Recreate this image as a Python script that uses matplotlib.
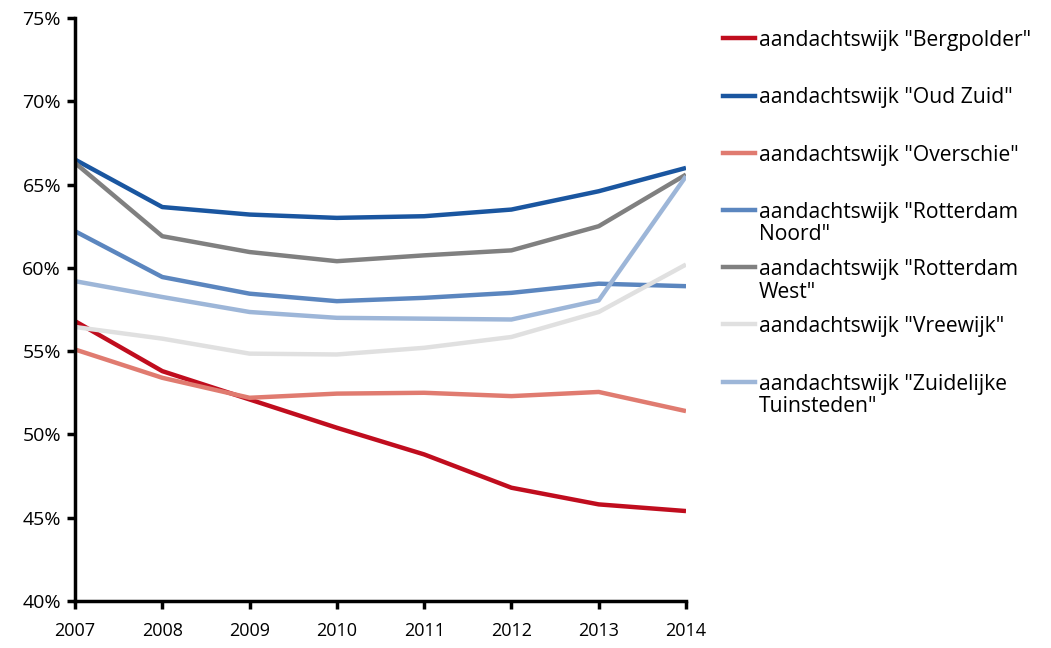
import matplotlib
matplotlib.use("Agg")
import matplotlib.pyplot as plt
from matplotlib.lines import Line2D
from matplotlib.ticker import FuncFormatter

years = [2007, 2008, 2009, 2010, 2011, 2012, 2013, 2014]
labels = ['aandachtswijk "Bergpolder"', 'aandachtswijk "Oud Zuid"', 'aandachtswijk "Overschie"',
          'aandachtswijk "Rotterdam\nNoord"', 'aandachtswijk "Rotterdam\nWest"', 'aandachtswijk "Vreewijk"',
          'aandachtswijk "Zuidelijke\nTuinsteden"']
bergpolder = [56.8, 53.8, 52.1, 50.4, 48.8, 46.8, 45.8, 45.4]
oud_zuid = [66.5, 63.65, 63.2, 63.0, 63.1, 63.5, 64.6, 66.0]
overschie = [55.1, 53.4, 52.2, 52.45, 52.5, 52.3, 52.55, 51.4]
rdam_noord = [62.2, 59.45, 58.45, 58.0, 58.2, 58.5, 59.05, 58.9]
rdam_west = [66.3, 61.9, 60.95, 60.4, 60.75, 61.05, 62.5, 65.6]
vreewijk = [56.45, 55.75, 54.85, 54.8, 55.2, 55.85, 57.35, 60.2]
zuidelijke = [59.2, 58.25, 57.35, 57.0, 56.95, 56.9, 58.05, 65.5]
series = [bergpolder, oud_zuid, overschie, rdam_noord, rdam_west, vreewijk, zuidelijke]
colors = ['#C00D1E', '#1A56A0', '#E07B70', '#5B86BF', '#808080', '#E0E0E0', '#9DB6D8']

plt.rcParams['font.family'] = ['Open Sans', 'DejaVu Sans']

fig = plt.figure(figsize=(10.51, 6.48), dpi=100)
ax = fig.add_axes([75/1051, 47/648, 611/1051, 583/648])

for vals, c in zip(series, colors):
    ax.plot(years, vals, color=c, lw=3.2, solid_capstyle='butt')

ax.set_xlim(2007, 2014)
ax.set_ylim(40, 75)
ax.set_xticks(years)
ax.set_yticks(range(40, 76, 5))
ax.yaxis.set_major_formatter(FuncFormatter(lambda v, p: f"{int(v)}%"))
for s in ['top', 'right']:
    ax.spines[s].set_visible(False)
for s in ['left', 'bottom']:
    ax.spines[s].set_linewidth(2.5)
    ax.spines[s].set_zorder(5)
ax.tick_params(axis='both', length=6, width=2.5, direction='out')
ax.tick_params(axis='x', pad=9, labelsize=13)
ax.tick_params(axis='y', pad=4, labelsize=14)

# legend drawn manually
y0 = 38.3
step = 57.2
for i, (lab, c) in enumerate(zip(labels, colors)):
    yy = 1 - (y0 + i * step) / 648
    fig.add_artist(Line2D([723/1051, 755/1051], [yy, yy], color=c, lw=3.2, transform=fig.transFigure))
    fig.text(759/1051, yy + 8/648, lab, fontsize=15.2, va='top', ha='left', linespacing=1.1,
             transform=fig.transFigure)

fig.savefig('out.png', dpi=100)
